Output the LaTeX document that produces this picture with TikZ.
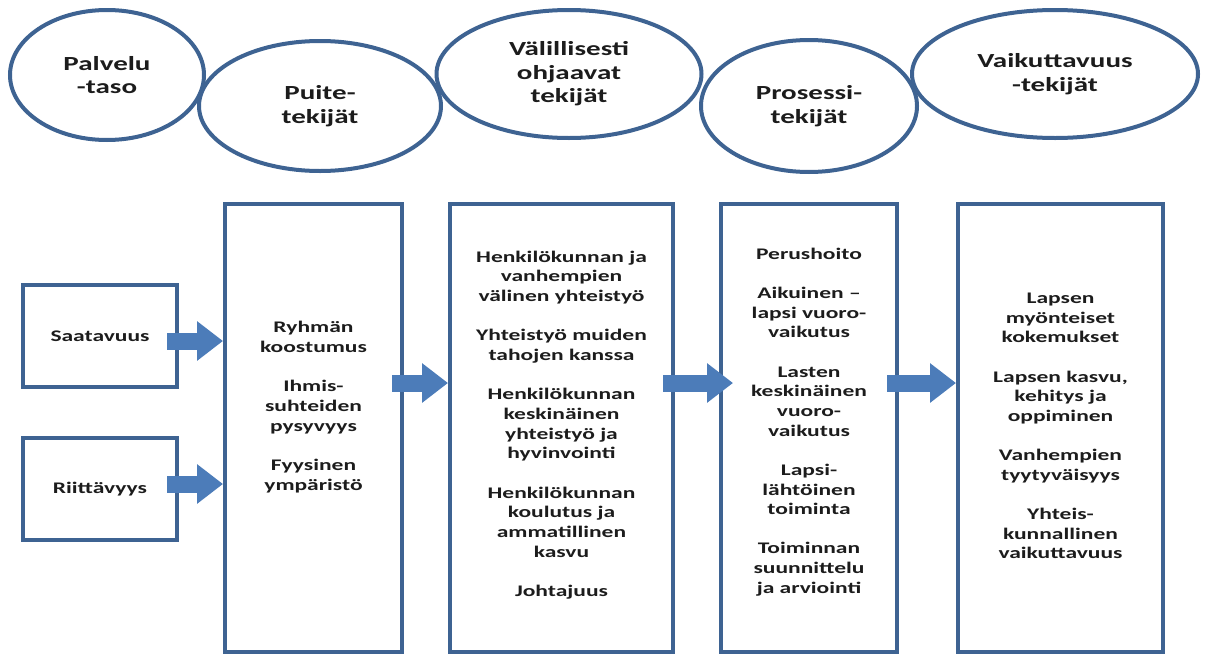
\documentclass[tikz,border=0pt]{standalone}
\usepackage{fontspec}
\newfontfamily\diagfont{Carlito}[FakeStretch=1.45]
\usetikzlibrary{shapes.geometric,arrows.meta}
\definecolor{edgeblue}{RGB}{62,99,146}
\definecolor{arrowblue}{RGB}{76,124,185}
\definecolor{textgray}{RGB}{28,28,28}

\begin{document}
\begin{tikzpicture}[
        x=1pt, y=-1pt,
        title/.style={draw=edgeblue, line width=4pt, ellipse, align=center, text=textgray,
            font=\diagfont\bfseries\fontsize{20}{23.5}\selectfont},
        smallbox/.style={draw=edgeblue, line width=4pt, minimum width=154pt, minimum height=102pt,
            text=textgray, font=\diagfont\bfseries\fontsize{16.2}{19.7}\selectfont},
        bigbox/.style={draw=edgeblue, line width=4pt, minimum height=448pt},
        boxtext/.style={align=center, text=textgray, font=\diagfont\bfseries\fontsize{16.2}{19.7}\selectfont},
        fatarrow/.style={draw=arrowblue, line width=17pt, -{Triangle[length=26pt,width=38pt]}, shorten <=-12pt},
    ]
    \useasboundingbox (0,0) rectangle (1207,664);

    \node[title, minimum width=194pt, minimum height=130pt] (palvelu) at (107,75) {Palvelu\\-taso};
    \node[title, minimum width=242pt, minimum height=130pt] (puitet) at (320,106) {Puite-\\tekijät};
    \node[title, minimum width=265pt, minimum height=128pt] (valit) at (569,74) {Välillisesti\\ohjaavat\\tekijät};
    \node[title, minimum width=216pt, minimum height=132pt] (prosessit) at (809,106) {Prosessi-\\tekijät};
    \node[title, minimum width=286pt, minimum height=128pt] (vaikt) at (1055,74) {Vaikuttavuus\\-tekijät};

    \node[smallbox] (saat) at (100,336) {Saatavuus};
    \node[smallbox] (riit) at (100,489) {Riittävyys};

    \node[bigbox, minimum width=177pt] (puite) at (313.5,428) {};
    \node[bigbox, minimum width=223pt] (vali) at (561.5,428) {};
    \node[bigbox, minimum width=176pt] (pros) at (809,428) {};
    \node[bigbox, minimum width=205pt] (vaik) at (1060.5,428) {};

    \node[boxtext] (puitetxt) at ([yshift=21pt]puite.center) {Ryhmän\\koostumus\\[19.5pt]Ihmis-\\suhteiden\\pysyvyys\\[19.5pt]Fyysinen\\ympäristö};
    \node[boxtext] (valitxt) at ([yshift=3pt]vali.center) {Henkilökunnan ja\\vanhempien\\välinen yhteistyö\\[19.5pt]Yhteistyö muiden\\tahojen kanssa\\[19.5pt]Henkilökunnan\\keskinäinen\\yhteistyö ja\\hyvinvointi\\[19.5pt]Henkilökunnan\\koulutus ja\\ammatillinen\\kasvu\\[19.5pt]Johtajuus};
    \node[boxtext] (prostxt) at ([yshift=6pt]pros.center) {Perushoito\\[19.5pt]Aikuinen –\\lapsi vuoro-\\vaikutus\\[19.5pt]Lasten\\keskinäinen\\vuoro-\\vaikutus\\[19.5pt]Lapsi-\\lähtöinen\\toiminta\\[19.5pt]Toiminnan\\suunnittelu\\ja arviointi};
    \node[boxtext] (vaiktxt) at ([yshift=2pt]vaik.center) {Lapsen\\myönteiset\\kokemukset\\[19.5pt]Lapsen kasvu,\\kehitys ja\\oppiminen\\[19.5pt]Vanhempien\\tyytyväisyys\\[19.5pt]Yhteis-\\kunnallinen\\vaikuttavuus};

    \draw[fatarrow] ([yshift=-5pt]saat.east) -- ([yshift=-5pt]saat.east -| puite.west);
    \draw[fatarrow] ([yshift=5pt]riit.east) -- ([yshift=5pt]riit.east -| puite.west);
    \draw[fatarrow] ([yshift=45pt]puite.east) -- ([yshift=45pt]vali.west);
    \draw[fatarrow, shorten >=-14pt] ([yshift=45pt]vali.east) -- ([yshift=45pt]pros.west);
    \draw[fatarrow] ([yshift=45pt]pros.east) -- ([yshift=45pt]vaik.west);
\end{tikzpicture}
\end{document}
